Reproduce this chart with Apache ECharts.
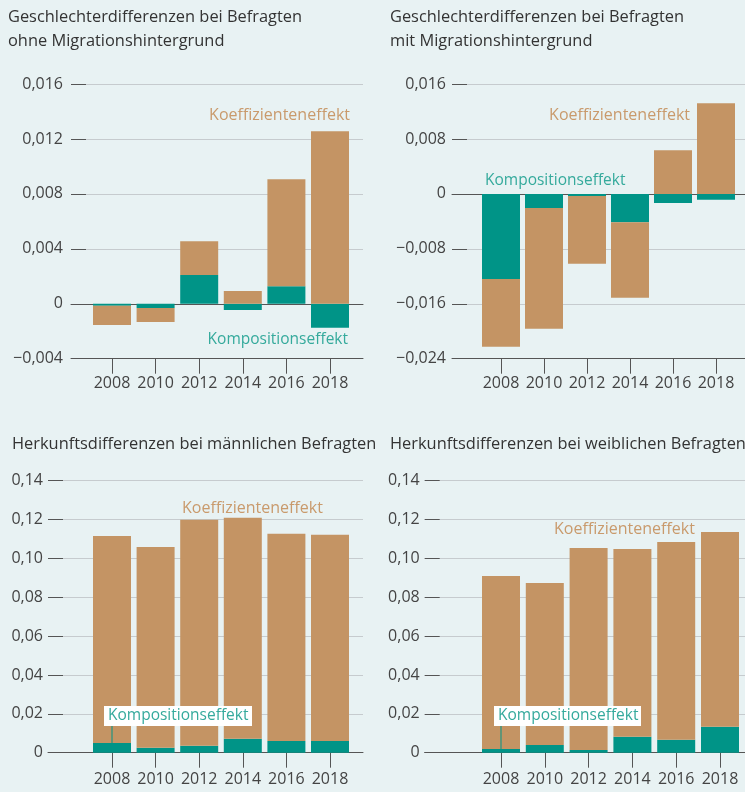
<!DOCTYPE html>
<html>
<head>
<meta charset="utf-8">
<script src="https://cdn.jsdelivr.net/npm/echarts@6/dist/echarts.min.js"></script>
<style>
  html, body { margin: 0; padding: 0; background: #e8f2f3; }
  #chart { width: 745px; height: 792px; }
</style>
</head>
<body>
<div id="chart"></div>
<script>
const years = ['2008', '2010', '2012', '2014', '2016', '2018']

// Geschlechterdifferenzen ohne Migrationshintergrund
const kompOhne = [-0.00015, -0.0003, 0.00209, -0.00046, 0.00128, -0.00175]
const koeffOhne = [-0.0014, -0.00102, 0.00247, 0.00092, 0.00778, 0.01256]
// Geschlechterdifferenzen mit Migrationshintergrund
const kompMit = [-0.01241, -0.00204, -0.0003, -0.00412, -0.00131, -0.00087]
const koeffMit = [-0.00984, -0.0176, -0.00989, -0.01101, 0.00635, 0.01319]
// Herkunftsdifferenzen männlich
const kompMaenner = [0.005, 0.0026, 0.0036, 0.0072, 0.006, 0.006]
const koeffMaenner = [0.1065, 0.1033, 0.1163, 0.1137, 0.1067, 0.1062]
// Herkunftsdifferenzen weiblich
const kompFrauen = [0.0019, 0.0039, 0.0014, 0.0082, 0.0067, 0.0134]
const koeffFrauen = [0.089, 0.0834, 0.104, 0.0966, 0.1017, 0.1002]

const TAN = '#c49464'
const TEAL = '#009487'
const TAN_TEXT = '#c99a6c'
const TEAL_TEXT = '#35aa9c'
const DARK = '#555'
const LABEL = '#444'
const FONT = '"Open Sans", "Noto Sans", sans-serif'

const fmt = digits => v => {
  if (Math.abs(v) < 1e-9) return '0'
  return (v < 0 ? '\u2212' : '') + Math.abs(v).toFixed(digits).replace('.', ',')
}

// frame = area with y ticks and grid lines, bars = area covered by the six year slots
const panels = [
  { frame: [71, 84, 292, 274.7], bars: [90.2, 261.6], y: [-0.004, 0.016, 0.004, 3], yMargin: 8, xMargin: 17, zero: true, komp: kompOhne, koeff: koeffOhne },
  { frame: [452, 84, 293, 274.7], bars: [479.5, 258], y: [-0.024, 0.016, 0.008, 3], yMargin: 6, xMargin: 17, zero: true, komp: kompMit, koeff: koeffMit },
  { frame: [48, 480.7, 315, 272], bars: [90.2, 261.6], y: [0, 0.14, 0.02, 2], yMargin: 5, xMargin: 19, zero: false, komp: kompMaenner, koeff: koeffMaenner },
  { frame: [424.7, 480.7, 320.3, 272], bars: [479.1, 262.8], y: [0, 0.14, 0.02, 2], yMargin: 5, xMargin: 19, zero: false, komp: kompFrauen, koeff: koeffFrauen }
]

const grid = []
const xAxis = []
const yAxis = []
const series = []

panels.forEach((p, i) => {
  const [l, t, w, h] = p.frame
  const fg = grid.length
  grid.push({ left: l, top: t, width: w, height: h })
  const bg = grid.length
  grid.push({ left: p.bars[0], top: t, width: p.bars[1], height: h })

  // frame axes
  xAxis.push({
    type: 'value', gridIndex: fg, min: 0, max: 1, position: 'bottom',
    splitLine: { show: false }, axisTick: { show: false }, axisLabel: { show: false },
    axisLine: { show: true, onZero: false, lineStyle: { color: DARK, width: 1 } }
  })
  if (p.zero) {
    xAxis.push({
      type: 'value', gridIndex: fg, min: 0, max: 1, position: 'top',
      splitLine: { show: false }, axisTick: { show: false }, axisLabel: { show: false },
      axisLine: { show: true, onZero: true, lineStyle: { color: DARK, width: 1 } }
    })
  }
  yAxis.push({
    type: 'value', gridIndex: fg, min: p.y[0], max: p.y[1], interval: p.y[2],
    axisLine: { show: false },
    axisTick: { show: true, inside: true, length: 15, lineStyle: { color: DARK, width: 1 } },
    splitLine: { show: true, lineStyle: { color: '#c6cbce', width: 1 } },
    axisLabel: { formatter: fmt(p.y[3]), fontSize: 16, fontFamily: FONT, color: LABEL, margin: p.yMargin }
  })

  // bar axes
  const xi = xAxis.length
  xAxis.push({
    type: 'category', gridIndex: bg, data: years,
    axisLine: { show: false, onZero: false },
    axisTick: { show: true, interval: 0, alignWithLabel: true, length: 15, lineStyle: { color: DARK, width: 1 } },
    axisLabel: { interval: 0, hideOverlap: false, fontSize: 16, fontFamily: FONT, color: LABEL, margin: p.xMargin }
  })
  const yi = yAxis.length
  yAxis.push({
    type: 'value', gridIndex: bg, min: p.y[0], max: p.y[1], interval: p.y[2], show: false
  })

  series.push({
    name: 'Kompositionseffekt', type: 'bar', xAxisIndex: xi, yAxisIndex: yi,
    stack: 'p' + i, barWidth: 38, itemStyle: { color: TEAL }, data: p.komp
  })
  series.push({
    name: 'Koeffizienteneffekt', type: 'bar', xAxisIndex: xi, yAxisIndex: yi,
    stack: 'p' + i, barWidth: 38, itemStyle: { color: TAN }, data: p.koeff
  })
})

const titleStyle = { fontSize: 16.4, fontWeight: 'normal', color: '#333', fontFamily: FONT, lineHeight: 24 }
const title = [
  { text: 'Geschlechterdifferenzen bei Befragten\nohne Migrationshintergrund', left: 8, top: 5 },
  { text: 'Geschlechterdifferenzen bei Befragten\nmit Migrationshintergrund', left: 390, top: 5 },
  { text: 'Herkunftsdifferenzen bei männlichen Befragten', left: 12, top: 432 },
  { text: 'Herkunftsdifferenzen bei weiblichen Befragten', left: 390, top: 432 }
].map(t => ({ ...t, padding: 0, textStyle: titleStyle }))

const chart = echarts.init(document.getElementById('chart'))
chart.setOption({
  backgroundColor: '#e8f2f3',
  animation: false,
  title,
  grid,
  xAxis,
  yAxis,
  series
})

const note = (text, x, y, color, align, size) => ({
  type: 'text', x, y, z: 100,
  style: { text, fill: color, font: (size || 16) + 'px ' + FONT, align: align || 'left', verticalAlign: 'middle' }
})

// boxed label with a leader line down to the 2008 composition bar
const boxed = (x, y, w, seriesIdx, komp) => {
  const p = chart.convertToPixel({ seriesIndex: seriesIdx }, [0, komp[0]])
  return [
    { type: 'line', z: 99, shape: { x1: p[0], y1: y + 20, x2: p[0], y2: p[1] }, style: { stroke: TEAL, lineWidth: 1 } },
    { type: 'rect', z: 100, shape: { x, y, width: w, height: 20 }, style: { fill: '#fff' } },
    { type: 'text', z: 101, x: x + 4, y: y + 10, style: { text: 'Kompositionseffekt', fill: TEAL_TEXT, font: '15.5px ' + FONT, verticalAlign: 'middle' } }
  ]
}

chart.setOption({
  graphic: [
    note('Koeffizienteneffekt', 350, 115, TAN_TEXT, 'right'),
    note('Kompositionseffekt', 348, 340, TEAL_TEXT, 'right', 15.5),
    note('Koeffizienteneffekt', 690, 115, TAN_TEXT, 'right'),
    note('Kompositionseffekt', 485, 181, TEAL_TEXT, 'left', 15.5),
    note('Koeffizienteneffekt', 182, 508, TAN_TEXT),
    note('Koeffizienteneffekt', 554, 529, TAN_TEXT),
    ...boxed(104, 706, 148, 4, kompMaenner),
    ...boxed(494, 706, 147, 6, kompFrauen)
  ]
})
</script>
</body>
</html>
